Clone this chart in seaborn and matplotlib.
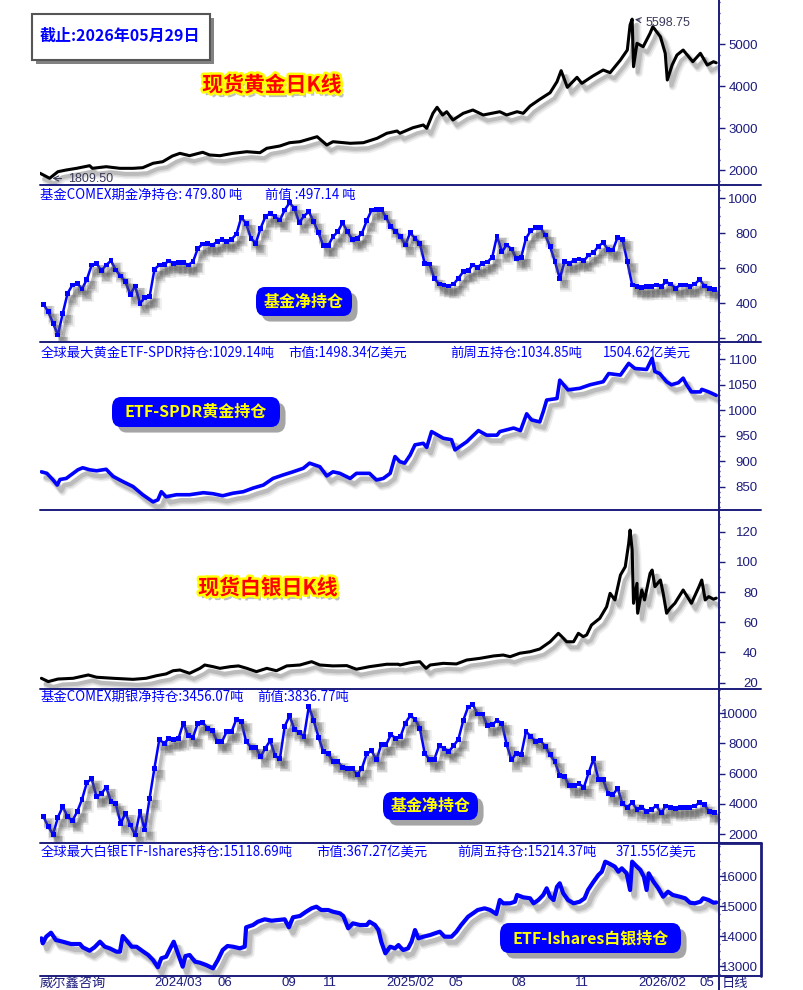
import matplotlib
matplotlib.use("Agg")
import matplotlib.pyplot as plt
import matplotlib.dates as mdates
import matplotlib.patheffects as pe
from matplotlib.lines import Line2D
from matplotlib.patches import FancyBboxPatch, Rectangle
from matplotlib.ticker import MultipleLocator
from matplotlib.transforms import ScaledTranslation
import pandas as pd
import seaborn as sns

# ---------------- data ----------------
gold_dates = [
    "2023-09-21", "2023-10-05", "2023-10-17", "2023-10-29", "2023-11-13", "2023-12-02", "2023-12-06", "2023-12-26",
    "2024-01-15", "2024-02-03", "2024-02-17", "2024-03-03", "2024-03-17", "2024-03-31", "2024-04-11", "2024-04-25",
    "2024-05-14", "2024-05-24", "2024-06-08", "2024-06-27", "2024-07-17", "2024-08-05", "2024-08-15", "2024-09-03",
    "2024-09-17", "2024-10-02", "2024-10-27", "2024-11-10", "2024-11-19", "2024-12-14", "2025-01-02", "2025-01-22",
    "2025-02-05", "2025-02-20", "2025-02-24", "2025-03-15", "2025-03-30", "2025-04-04", "2025-04-13", "2025-04-19",
    "2025-04-27", "2025-05-03", "2025-05-12", "2025-05-27", "2025-06-10", "2025-06-25", "2025-07-19", "2025-07-29",
    "2025-08-13", "2025-08-22", "2025-09-01", "2025-09-15", "2025-09-30", "2025-10-10", "2025-10-16", "2025-10-25",
    "2025-11-08", "2025-11-15", "2025-12-01", "2025-12-16", "2025-12-26", "2026-01-10", "2026-01-20", "2026-01-24",
    "2026-01-27", "2026-01-29", "2026-02-03", "2026-02-12", "2026-02-22", "2026-02-26", "2026-03-09", "2026-03-16",
    "2026-03-19", "2026-03-26", "2026-04-02", "2026-04-11", "2026-04-25", "2026-05-06", "2026-05-16", "2026-05-25",
    "2026-05-29"]
gold_close = [
    1930, 1810, 1967, 2007, 2047, 2110, 2047, 2086,
    2047, 2047, 2062, 2167, 2205, 2340, 2404, 2348,
    2429, 2365, 2348, 2404, 2443, 2419, 2524, 2579,
    2657, 2681, 2800, 2602, 2681, 2643, 2657, 2762,
    2881, 2936, 2881, 3014, 3079, 3000, 3357, 3500,
    3317, 3395, 3198, 3357, 3436, 3317, 3395, 3317,
    3395, 3357, 3531, 3690, 3848, 4110, 4372, 3976,
    4214, 4071, 4245, 4388, 4324, 4626, 4864, 5460,
    5599, 4467, 5024, 4943, 5262, 5419, 5181, 4786,
    4150, 4507, 4745, 4864, 4586, 4786, 4507, 4586,
    4560]

# weekly COMEX net positions (tonnes), one value per week up to 2026-05-26
comex_gold_net = [
    395, 352, 286, 219, 343, 457, 505, 514, 482, 537, 619, 629, 586, 619, 643, 590, 556, 523, 451, 499,
    400, 432, 438, 594, 619, 623, 642, 629, 632, 632, 619, 638, 714, 739, 743, 733, 752, 767, 752, 766,
    796, 891, 857, 771, 743, 829, 895, 914, 895, 876, 933, 975, 943, 861, 899, 924, 866, 803, 729, 729,
    781, 809, 861, 809, 766, 771, 800, 872, 933, 937, 937, 891, 838, 809,
    781, 733, 803, 771, 743, 629, 625, 543, 510, 505, 499, 510, 543, 581, 586, 619, 606, 629, 636, 663,
    785, 695, 733, 710, 657, 663, 771, 815, 832, 832, 790, 723, 638, 543, 638, 629, 647, 653, 643, 676,
    689, 727, 746, 709, 705, 777, 766, 638, 505, 495, 491, 495, 495, 505, 495, 523, 510, 486, 505, 505,
    495, 510, 537, 499, 486, 479.8]

spdr_dates = [
    "2023-09-23", "2023-10-01", "2023-10-10", "2023-10-16", "2023-10-20", "2023-10-29", "2023-11-05", "2023-11-15",
    "2023-11-22", "2023-12-02", "2023-12-12", "2023-12-26", "2024-01-05", "2024-01-19", "2024-02-03", "2024-02-17",
    "2024-03-03", "2024-03-10", "2024-03-15", "2024-03-22", "2024-04-06", "2024-04-25", "2024-05-15", "2024-05-29",
    "2024-06-12", "2024-06-27", "2024-07-12", "2024-07-26", "2024-08-10", "2024-08-24", "2024-09-08", "2024-09-22",
    "2024-10-07", "2024-10-16", "2024-10-31", "2024-11-10", "2024-11-19", "2024-11-29", "2024-12-14", "2024-12-23",
    "2025-01-11", "2025-01-21", "2025-01-31", "2025-02-10", "2025-02-17", "2025-02-24", "2025-03-03", "2025-03-11",
    "2025-03-18", "2025-03-30", "2025-04-04", "2025-04-11", "2025-04-28", "2025-05-10", "2025-05-15", "2025-06-01",
    "2025-06-18", "2025-06-30", "2025-07-15", "2025-07-19", "2025-08-08", "2025-08-18", "2025-08-27", "2025-09-03",
    "2025-09-15", "2025-09-20", "2025-09-25", "2025-10-10", "2025-10-14", "2025-10-26", "2025-11-12", "2025-11-27",
    "2025-12-16", "2025-12-24", "2026-01-10", "2026-01-22", "2026-01-31", "2026-02-17", "2026-02-25", "2026-03-01",
    "2026-03-08", "2026-03-18", "2026-03-25", "2026-04-04", "2026-04-11", "2026-04-16", "2026-04-23", "2026-05-06",
    "2026-05-08", "2026-05-18", "2026-05-23", "2026-05-29"]
spdr_tonnes = [
    879, 876, 863, 853, 864, 866, 873, 883,
    887, 883, 881, 884, 870, 860, 850, 834,
    820, 824, 840, 830, 834, 834, 838, 836,
    832, 837, 840, 847, 853, 866, 873, 879,
    886, 896, 889, 871, 879, 876, 866, 876,
    876, 863, 866, 876, 909, 899, 896, 912,
    932, 935, 927, 958, 945, 942, 922, 938,
    960, 951, 951, 958, 965, 960, 993, 981,
    977, 997, 1020, 1023, 1059, 1040, 1043, 1050,
    1056, 1072, 1069, 1092, 1082, 1080, 1102, 1076,
    1072, 1056, 1050, 1054, 1063, 1050, 1036, 1036,
    1041, 1036, 1033, 1029.14]

silver_dates = [
    "2023-09-23", "2023-10-03", "2023-10-17", "2023-11-08", "2023-11-30", "2023-12-12", "2024-01-05", "2024-02-03",
    "2024-02-22", "2024-03-08", "2024-03-22", "2024-04-01", "2024-04-11", "2024-04-25", "2024-05-10", "2024-05-17",
    "2024-05-29", "2024-06-08", "2024-06-23", "2024-07-05", "2024-07-17", "2024-07-31", "2024-08-15", "2024-08-29",
    "2024-09-13", "2024-10-02", "2024-10-19", "2024-10-31", "2024-11-19", "2024-12-09", "2024-12-23", "2025-01-11",
    "2025-02-05", "2025-02-22", "2025-02-24", "2025-03-11", "2025-03-25", "2025-04-03", "2025-04-09", "2025-04-28",
    "2025-05-17", "2025-06-01", "2025-06-20", "2025-07-10", "2025-07-24", "2025-08-03", "2025-08-17", "2025-09-01",
    "2025-09-15", "2025-09-30", "2025-10-12", "2025-10-17", "2025-10-24", "2025-11-03", "2025-11-10", "2025-11-17",
    "2025-11-22", "2025-11-29", "2025-12-11", "2025-12-21", "2025-12-26", "2026-01-02", "2026-01-10", "2026-01-17",
    "2026-01-22", "2026-01-24", "2026-01-27", "2026-01-29", "2026-02-03", "2026-02-04", "2026-02-10", "2026-02-14",
    "2026-02-22", "2026-02-25", "2026-03-01", "2026-03-09", "2026-03-13", "2026-03-18", "2026-03-23", "2026-03-30",
    "2026-04-11", "2026-04-23", "2026-05-04", "2026-05-08", "2026-05-13", "2026-05-18", "2026-05-25", "2026-05-29"]
silver_close = [
    22.9, 20.7, 22.4, 22.9, 25.1, 23.6, 22.9, 22.2,
    22.9, 24.6, 25.8, 27.9, 28.4, 26.2, 29.5, 31.7,
    30.6, 29.5, 30.6, 31.1, 29.5, 27.3, 29.5, 27.9,
    31.1, 31.7, 33.9, 31.7, 31.1, 31.3, 28.9, 30.6,
    32.2, 32.2, 31.7, 33.2, 33.9, 29.5, 31.7, 32.8,
    32.4, 35.0, 36.1, 37.7, 38.3, 37.2, 39.5, 40.5,
    42.3, 47.1, 52.7, 50.5, 47.1, 47.1, 52.7, 50.5,
    51.6, 58.2, 62.6, 70.3, 79.2, 74.8, 91.3, 96.8,
    112.3, 121.1, 107.9, 72.6, 85.8, 66.0, 81.4, 74.8,
    92.4, 94.6, 83.6, 88.0, 79.2, 66.0, 69.3, 72.6,
    81.4, 72.6, 83.6, 88.0, 74.8, 77.0, 75.3, 76.0]

comex_silver_net = [
    3165, 2505, 2002, 3126, 3826, 3165, 2901, 3496, 4315, 5413, 5657, 4487, 4666, 5109, 4157, 4005,
    2729, 3390, 2617, 1956, 3496, 2286, 4381, 6365, 8235, 8017, 8301, 8281, 8347, 9339, 8500, 8414,
    9339, 9379, 9009, 8850, 8123, 8123, 8784, 8784, 9603, 9445, 8123, 7753, 7753, 7131, 7687, 8189,
    7178, 6979, 9114, 9822, 8942, 8718, 8453, 10436, 9511, 8414, 7462, 7310, 6801, 6801, 6431, 6365,
    6365, 5922, 6365, 7310, 7508, 6913, 7905, 7905, 8566, 8347,
    8453, 9339, 9822, 9603, 9009, 7356, 6913, 6959, 7839, 7687, 7462, 7839, 8281, 9511, 10397, 10549,
    9934, 9934, 9160, 9227, 9511, 9339, 7905, 6913, 7356, 7244, 8784, 8453, 8123, 8189, 7792, 7244,
    6801, 5856, 5809, 5195, 5195, 5327, 5109, 6074, 6979, 5637, 5591, 4712, 4600, 5043, 4005, 3787,
    4091, 3654, 3787, 3496, 3654, 3872, 3430, 3872, 3787, 3720, 3787, 3787, 3787, 3872, 4091, 3939,
    3496, 3456.07]

slv_dates = [
    "2023-09-23", "2023-09-25", "2023-09-30", "2023-10-07", "2023-10-14", "2023-10-24", "2023-11-05", "2023-11-18",
    "2023-11-22", "2023-12-02", "2023-12-09", "2023-12-17", "2023-12-24", "2023-12-31", "2024-01-10", "2024-01-15",
    "2024-01-19", "2024-01-24", "2024-02-01", "2024-02-08", "2024-02-18", "2024-02-25", "2024-03-03", "2024-03-10",
    "2024-03-15", "2024-03-22", "2024-03-28", "2024-04-02", "2024-04-08", "2024-04-15", "2024-04-19", "2024-04-25",
    "2024-05-03", "2024-05-10", "2024-05-19", "2024-05-29", "2024-06-05", "2024-06-12", "2024-06-19", "2024-06-27",
    "2024-07-07", "2024-07-14", "2024-07-16", "2024-07-26", "2024-08-02", "2024-08-12", "2024-08-22", "2024-08-31",
    "2024-09-10", "2024-09-16", "2024-09-22", "2024-10-02", "2024-10-11", "2024-10-19", "2024-10-26", "2024-11-02",
    "2024-11-12", "2024-11-19", "2024-11-29", "2024-12-04", "2024-12-11", "2024-12-18", "2024-12-28", "2025-01-07",
    "2025-01-11", "2025-01-19", "2025-01-24", "2025-01-28", "2025-02-03", "2025-02-10", "2025-02-17", "2025-02-22",
    "2025-02-24", "2025-03-01", "2025-03-08", "2025-03-13", "2025-03-18", "2025-03-23", "2025-03-30", "2025-04-09",
    "2025-04-16", "2025-04-23", "2025-04-30", "2025-05-10", "2025-05-17", "2025-05-24", "2025-06-03", "2025-06-10",
    "2025-06-17", "2025-06-27", "2025-07-05", "2025-07-14", "2025-07-19", "2025-07-24", "2025-08-03", "2025-08-10",
    "2025-08-13", "2025-08-22", "2025-09-01", "2025-09-06", "2025-09-13", "2025-09-20", "2025-09-25", "2025-09-30",
    "2025-10-05", "2025-10-10", "2025-10-14", "2025-10-19", "2025-10-26", "2025-11-03", "2025-11-12", "2025-11-19",
    "2025-11-24", "2025-12-02", "2025-12-09", "2025-12-14", "2025-12-19", "2025-12-26", "2026-01-02", "2026-01-07",
    "2026-01-12", "2026-01-19", "2026-01-24", "2026-01-27", "2026-02-03", "2026-02-08", "2026-02-13", "2026-02-17",
    "2026-02-20", "2026-02-27", "2026-03-06", "2026-03-13", "2026-03-20", "2026-03-27", "2026-04-06", "2026-04-14",
    "2026-04-21", "2026-04-28", "2026-05-06", "2026-05-10", "2026-05-18", "2026-05-25", "2026-05-29"]
slv_tonnes = [
    13923, 13757, 13977, 14110, 13867, 13810, 13733, 13733,
    13623, 13510, 13623, 13810, 13643, 13590, 13477, 13477,
    14000, 13867, 13643, 13643, 13477, 13367, 13200, 12957,
    13257, 13310, 13590, 13810, 13423, 12977, 13333, 13367,
    13143, 13110, 13033, 12923, 13200, 13533, 13667, 13643,
    13590, 13643, 14290, 14367, 14477, 14557, 14510, 14533,
    14557, 14290, 14623, 14667, 14810, 14923, 14977, 14867,
    14867, 14810, 14757, 14667, 14257, 14423, 14367, 14367,
    14477, 14367, 14200, 13810, 13423, 13643, 13590, 13700,
    13643, 13533, 13590, 13810, 14200, 13923, 13977, 14033,
    14090, 14143, 13977, 13977, 14143, 14367, 14643, 14757,
    14867, 14923, 14867, 14733, 15200, 15090, 15090, 15143,
    15367, 15290, 15257, 15090, 15200, 15367, 15590, 15310,
    15200, 15643, 15757, 15423, 15200, 15090, 15143, 15257,
    15533, 15810, 16033, 16143, 16477, 16400, 16310, 16143,
    16257, 16090, 15533, 16477, 16310, 16200, 15977, 15533,
    16090, 15810, 15590, 15310, 15477, 15367, 15310, 15257,
    15110, 15090, 15143, 15257, 15200, 15110, 15118.69]

month_ticks = ["2024-03-01", "2024-06-01", "2024-09-01", "2024-11-01", "2025-02-01",
               "2025-05-01", "2025-08-01", "2025-11-01", "2026-02-01", "2026-05-01"]
month_labels = ["2024/03", "06", "09", "11", "2025/02", "05", "08", "11", "2026/02", "05"]

# ---------------- style ----------------
sns.set_style("white")
plt.rcParams["font.family"] = ["Noto Sans CJK SC", "DejaVu Sans"]

W, H = 804, 990
NAVY = "#1c1c7c"
BLUE = "#0000ff"
TICKFONT = "Liberation Sans"

fig = plt.figure(figsize=(W / 100, H / 100), dpi=100)

# panel rows in pixels (top, bottom); plot area x from 40 to 719
rows = [(0, 185), (185, 342), (342, 510), (510, 689), (689, 843), (843, 976)]
axes = [fig.add_axes([40 / W, 1 - b / H, (719 - 40) / W, (b - t) / H]) for t, b in rows]


def soft_shadow(lw):
    # a few offset grey copies give a blurred drop shadow
    fx = []
    for dx, dy, extra, a in [(4, -5, 3.0, 0.10), (3.5, -4.5, 1.8, 0.15), (3, -4, 0.6, 0.22)]:
        fx.append(pe.SimpleLineShadow(offset=(dx, dy), shadow_color="0.35", alpha=a,
                                      linewidth=lw + extra))
    fx.append(pe.Normal())
    return fx


# 1 gold price
sns.lineplot(x=pd.to_datetime(gold_dates), y=gold_close, ax=axes[0], color="black",
             linewidth=2.2, path_effects=soft_shadow(2.2))
# 2 COMEX gold net
comex_dates = pd.date_range(end="2026-05-26", periods=len(comex_gold_net), freq="7D")
sns.lineplot(x=comex_dates, y=comex_gold_net, ax=axes[1], color=BLUE, linewidth=1.8,
             marker="s", markersize=3.5, markeredgewidth=0, path_effects=soft_shadow(1.8))
# 3 SPDR holdings
sns.lineplot(x=pd.to_datetime(spdr_dates), y=spdr_tonnes, ax=axes[2], color=BLUE,
             linewidth=2.6, path_effects=soft_shadow(2.6))
# 4 silver price
sns.lineplot(x=pd.to_datetime(silver_dates), y=silver_close, ax=axes[3], color="black",
             linewidth=2.2, path_effects=soft_shadow(2.2))
# 5 COMEX silver net
comex_s_dates = pd.date_range(end="2026-05-26", periods=len(comex_silver_net), freq="7D")
sns.lineplot(x=comex_s_dates, y=comex_silver_net, ax=axes[4], color=BLUE, linewidth=1.8,
             marker="s", markersize=3.5, markeredgewidth=0, path_effects=soft_shadow(1.8))
# 6 iShares silver holdings
sns.lineplot(x=pd.to_datetime(slv_dates), y=slv_tonnes, ax=axes[5], color=BLUE,
             linewidth=3.0, path_effects=soft_shadow(3.0))

xmin = mdates.date2num(pd.Timestamp("2023-09-21"))
xmax = mdates.date2num(pd.Timestamp("2026-06-02"))
specs = [
    ((1650, 6055), [2000, 3000, 4000, 5000], 250),
    ((179, 1076), [200, 400, 600, 800, 1000], 50),
    ((804, 1134), [850, 900, 950, 1000, 1050, 1100], 10),
    ((15.8, 134.4), [20, 40, 60, 80, 100, 120], 5),
    ((1427, 11587), [2000, 4000, 6000, 8000, 10000], 500),
    ((12667, 17100), [13000, 14000, 15000, 16000], 250),
]
for ax, (ylim, yt, minor) in zip(axes, specs):
    ax.set_xlim(xmin, xmax)
    ax.set_ylim(*ylim)
    ax.set_yticks(yt)
    ax.set_yticklabels([f"{v:g}" for v in yt])
    ax.yaxis.set_minor_locator(MultipleLocator(minor))
    ax.yaxis.tick_right()
    ax.tick_params(axis="y", which="major", direction="out", length=4, width=1,
                   color=NAVY, labelcolor=NAVY, labelsize=9.5, pad=24)
    ax.tick_params(axis="y", which="minor", direction="out", length=1, width=1, color=NAVY)
    for t in ax.get_yticklabels():
        t.set_horizontalalignment("right")
        t.set_fontfamily(TICKFONT)
    for s in ax.spines.values():
        s.set_visible(False)
    ax.set_xlabel("")
    ax.set_ylabel("")
    ax.set_facecolor("none")
    ax.grid(False)
    if ax is not axes[-1]:
        ax.set_xticks([])

# bottom date axis
bx = axes[-1]
bx.set_xticks(mdates.date2num(pd.to_datetime(month_ticks)))
bx.set_xticklabels(month_labels)
bx.xaxis.set_minor_locator(mdates.MonthLocator(bymonthday=(1, 16)))
bx.tick_params(axis="x", which="major", direction="out", length=10, width=1,
               color=NAVY, labelcolor=NAVY, labelsize=9.5, pad=-9.5)
bx.tick_params(axis="x", which="minor", direction="out", length=2.5, width=1, color=NAVY)
for t in bx.get_xticklabels():
    t.set_horizontalalignment("left")
    t.set_fontfamily(TICKFONT)
    t.set_transform(t.get_transform() + ScaledTranslation(2 / 72, 0, fig.dpi_scale_trans))


def px(x, y):
    return x / W, 1 - y / H


def fig_line(x0, y0, x1, y1, lw=1.4):
    fig.add_artist(Line2D([x0 / W, x1 / W], [1 - y0 / H, 1 - y1 / H],
                          transform=fig.transFigure, color=NAVY, lw=lw))


for _, b in rows:
    fig_line(40, b, 761, b)
fig_line(719, 0, 719, 990)
fig_line(761, 843, 761, 976, lw=2)
fig_line(719, 843, 761, 843, lw=2)

# annotations on gold price
axes[0].annotate("1809.50", xy=(mdates.date2num(pd.Timestamp("2023-10-05")), 1810),
                 xytext=(mdates.date2num(pd.Timestamp("2023-10-31")), 1790),
                 color="#3a3a5a", fontsize=9, fontfamily=TICKFONT, va="center", ha="left",
                 arrowprops=dict(arrowstyle="->", color="#3a3a5a", lw=0.8))
axes[0].annotate("5598.75", xy=(mdates.date2num(pd.Timestamp("2026-01-27")), 5599),
                 xytext=(mdates.date2num(pd.Timestamp("2026-02-16")), 5500),
                 color="#3a3a5a", fontsize=9, fontfamily=TICKFONT, va="center", ha="left",
                 arrowprops=dict(arrowstyle="->", color="#3a3a5a", lw=0.8))

# date box
fig.add_artist(Rectangle(px(32, 60), (210 - 32) / W, (60 - 14) / H, transform=fig.transFigure,
                         fc="white", ec="#555555", lw=1.5,
                         path_effects=[pe.SimplePatchShadow(offset=(3, -3), shadow_rgbFace="0.3", alpha=0.7),
                                       pe.Normal()]))
fig.text(*px(40, 36), "截止:2026年05月29日", color=BLUE, fontsize=11.5, fontweight="bold", va="center")

# red titles
title_fx = [pe.SimplePatchShadow(offset=(2, -3), shadow_rgbFace="0.5", alpha=0.5),
            pe.withStroke(linewidth=3.5, foreground="#ffff00")]
fig.text(*px(272, 85), "现货黄金日K线", color="#ff0000", fontsize=15, fontweight="bold",
         ha="center", va="center", path_effects=title_fx)
fig.text(*px(268, 588), "现货白银日K线", color="#ff0000", fontsize=15, fontweight="bold",
         ha="center", va="center", path_effects=title_fx)


def blue_tag(x0, y0, x1, y1, text, size=11.5):
    box = FancyBboxPatch(px(x0, y1), (x1 - x0) / W, (y1 - y0) / H,
                         boxstyle="round,pad=0,rounding_size=0.011", transform=fig.transFigure,
                         fc=BLUE, ec="none",
                         path_effects=[pe.SimplePatchShadow(offset=(4, -4), shadow_rgbFace="0.3", alpha=0.5),
                                       pe.Normal()])
    fig.add_artist(box)
    fig.text(*px((x0 + x1) / 2, (y0 + y1) / 2), text, color="#ffff00", fontsize=size,
             fontweight="bold", ha="center", va="center")


blue_tag(256, 287, 352, 316, "基金净持仓")
blue_tag(112, 397, 280, 427, "ETF-SPDR黄金持仓")
blue_tag(383, 792, 478, 820, "基金净持仓")
blue_tag(500, 923, 681, 953, "ETF-Ishares白银持仓")

# panel header texts
headers = [
    (40, 195, "基金COMEX期金净持仓: 479.80 吨"), (265, 195, "前值 :497.14 吨"),
    (41, 353, "全球最大黄金ETF-SPDR持仓:1029.14吨"), (288, 353, "市值:1498.34亿美元"),
    (450, 353, "前周五持仓:1034.85吨"), (603, 353, "1504.62亿美元"),
    (41, 697, "基金COMEX期银净持仓:3456.07吨"), (257, 697, "前值:3836.77吨"),
    (41, 852, "全球最大白银ETF-Ishares持仓:15118.69吨"), (316, 852, "市值:367.27亿美元"),
    (457, 852, "前周五持仓:15214.37吨"), (616, 852, "371.55亿美元"),
]
for x, y, s in headers:
    fig.text(*px(x, y), s, color=BLUE, fontsize=9.6, va="center", ha="left")

fig.text(*px(40, 983), "威尔鑫咨询", color=NAVY, fontsize=9.5, va="center")
fig.text(*px(722, 983), "日线", color=NAVY, fontsize=9.5, va="center")

fig.savefig("out.png", dpi=100)
